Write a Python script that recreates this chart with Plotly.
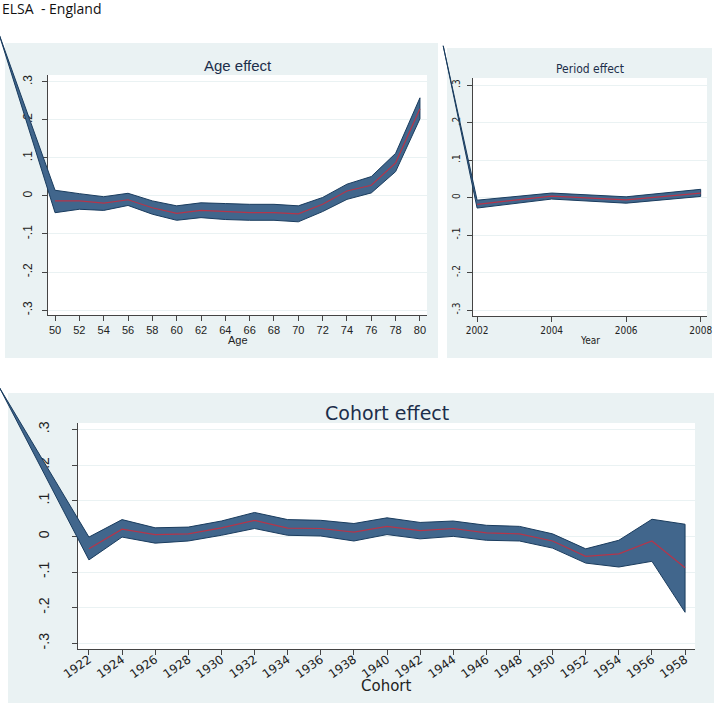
import plotly.graph_objects as go

W, H = 714, 705

# ---------------- data ----------------
age = [50, 52, 54, 56, 58, 60, 62, 64, 66, 68, 70, 72, 74, 76, 78, 80]
age_est = [-0.013, -0.013, -0.019, -0.010, -0.031, -0.046, -0.038, -0.041, -0.044, -0.044, -0.047, -0.022, 0.013, 0.028, 0.087, 0.229]
age_hi = [0.015, 0.006, -0.002, 0.007, -0.013, -0.026, -0.018, -0.020, -0.022, -0.022, -0.026, -0.004, 0.031, 0.051, 0.112, 0.258]
age_lo = [-0.044, -0.035, -0.038, -0.025, -0.048, -0.064, -0.057, -0.062, -0.064, -0.064, -0.068, -0.041, -0.009, 0.008, 0.064, 0.203]
age_stray = (45.4, 0.425)  # stray leading vertex of the CI polygon

year = [2002, 2004, 2006, 2008]
year_est = [-0.018, 0.004, -0.006, 0.012]
year_hi = [-0.007, 0.012, 0.002, 0.022]
year_lo = [-0.028, -0.004, -0.015, 0.003]
year_stray = (2001.09, 0.405)

cohort = list(range(1922, 1960, 2))
cohort_est = [-0.035, 0.020, 0.005, 0.007, 0.024, 0.045, 0.023, 0.022, 0.012, 0.028, 0.016, 0.022, 0.010, 0.007, -0.013, -0.056, -0.049, -0.013, -0.088]
cohort_hi = [-0.002, 0.047, 0.024, 0.026, 0.043, 0.067, 0.047, 0.045, 0.036, 0.052, 0.039, 0.043, 0.031, 0.028, 0.007, -0.035, -0.011, 0.048, 0.034]
cohort_lo = [-0.066, -0.002, -0.019, -0.013, 0.003, 0.022, 0.003, 0.001, -0.013, 0.005, -0.007, 0.000, -0.011, -0.013, -0.033, -0.075, -0.086, -0.070, -0.213]
cohort_stray = (1916.6, 0.417)

y_ticks = [-0.3, -0.2, -0.1, 0, 0.1, 0.2, 0.3]
y_ticktext = ["-.3", "-.2", "-.1", "0", ".1", ".2", ".3"]

# ---------------- styling ----------------
PANEL = "#EAF2F3"
GRID = "#EAF2F3"
BAND = "#41668C"
BAND_EDGE = "#1A3C5E"
RED = "#B5354A"
NAVY = "#1C2E4A"
AXC = "#444444"
ARIAL = "Liberation Sans, Arial, sans-serif"
NARROW = "Liberation Sans Narrow, Arial Narrow, DejaVu Sans Condensed, Liberation Sans, sans-serif"
WIDE = "DejaVu Sans, Verdana, sans-serif"


def px(x):
    return x / W


def py(y):
    return 1 - y / H


panels = {
    "age": dict(box=(48, 427, 75, 315), xr=[49.42, 80.58], yr=[-0.313, 0.318],
                xfont=dict(family=ARIAL, size=11, color="#222"),
                yfont=dict(family=ARIAL, size=12, color="#222"), xang=0, ystand=5, xstand=0),
    "year": dict(box=(473, 707, 78, 316), xr=[2001.89, 2008.17], yr=[-0.316, 0.319],
                 xfont=dict(family=NARROW, size=10, color="#222"),
                 yfont=dict(family=NARROW, size=10, color="#222"), xang=0, ystand=3, xstand=0),
    "cohort": dict(box=(78, 695, 423, 649), xr=[1921.34, 1958.6], yr=[-0.316, 0.318],
                   xfont=dict(family=WIDE, size=12, color="#222"),
                   yfont=dict(family=ARIAL, size=14, color="#222"), xang=-35, ystand=17,
                   xstand=-7),
}


def outer_range(r, d0, d1):
    span = (r[1] - r[0]) / (d1 - d0)
    return [r[0] - d0 * span, r[0] + (1 - d0) * span]


fig = go.Figure()

shapes = []
for (x0, x1, y0, y1) in [(5, 438, 43, 358), (447, 712, 48, 358), (8, 714, 393, 703)]:
    shapes.append(dict(type="rect", xref="paper", yref="paper", x0=px(x0), x1=px(x1),
                       y0=py(y1), y1=py(y0), fillcolor=PANEL, line_width=0, layer="below"))

layout = dict(width=W, height=H, margin=dict(l=0, r=0, t=0, b=0, pad=0, autoexpand=False),
              paper_bgcolor="white", plot_bgcolor="rgba(0,0,0,0)", showlegend=False,
              template="none")

series = [
    ("age", age, age_est, age_hi, age_lo, age_stray),
    ("year", year, year_est, year_hi, year_lo, year_stray),
    ("cohort", cohort, cohort_est, cohort_hi, cohort_lo, cohort_stray),
]

for i, (name, xs, est, hi, lo, stray) in enumerate(series):
    p = panels[name]
    l, r, t, b = p["box"]
    dx = [px(l), px(r)]
    dy = [py(b), py(t)]
    inner = i + 1
    outer = i + 4
    sfx = "" if inner == 1 else str(inner)

    layout["xaxis" + sfx] = dict(domain=dx, range=p["xr"], anchor="y" + sfx, automargin=False,
                                 showgrid=False, zeroline=False, showline=True, linecolor=AXC,
                                 linewidth=1, ticks="outside", ticklen=5, tickcolor=AXC,
                                 tickfont=p["xfont"], tickvals=xs,
                                 ticktext=[str(v) for v in xs], tickangle=p["xang"],
                                 ticklabelstandoff=p["xstand"])
    layout["yaxis" + sfx] = dict(domain=dy, range=p["yr"], anchor="x" + sfx, automargin=False,
                                 showgrid=True, gridcolor=GRID, gridwidth=1, zeroline=False,
                                 showline=True, linecolor=AXC, linewidth=1, ticks="outside",
                                 ticklen=5, tickcolor=AXC, tickvals=y_ticks,
                                 ticktext=y_ticktext, tickangle=-90, tickfont=p["yfont"],
                                 ticklabelstandoff=p["ystand"])
    shapes.append(dict(type="rect", xref=f"x{sfx} domain", yref=f"y{sfx} domain",
                       x0=0, x1=1, y0=0, y1=1, fillcolor="white", line_width=0, layer="below"))
    layout[f"xaxis{outer}"] = dict(domain=[0, 1], range=outer_range(p["xr"], dx[0], dx[1]),
                                   visible=False, anchor=f"y{outer}", automargin=False)
    layout[f"yaxis{outer}"] = dict(domain=[0, 1], range=outer_range(p["yr"], dy[0], dy[1]),
                                   visible=False, anchor=f"x{outer}", automargin=False)

    # invisible trace so that the inner subplot is drawn
    fig.add_trace(go.Scatter(x=xs, y=est, mode="lines", line=dict(width=0), opacity=0,
                             hoverinfo="skip", xaxis="x" + sfx, yaxis="y" + sfx))

    bx = [stray[0]] + list(xs) + list(xs)[::-1] + [stray[0]]
    by = [stray[1]] + list(hi) + list(lo)[::-1] + [stray[1]]
    fig.add_trace(go.Scatter(x=bx, y=by, fill="toself", fillcolor=BAND, mode="lines",
                             line=dict(color=BAND_EDGE, width=1), hoverinfo="skip",
                             xaxis=f"x{outer}", yaxis=f"y{outer}"))
    fig.add_trace(go.Scatter(x=xs, y=est, mode="lines", line=dict(color=RED, width=1.2),
                             xaxis=f"x{outer}", yaxis=f"y{outer}"))

layout["shapes"] = shapes
layout["annotations"] = [
    dict(text="ELSA  - England", xref="paper", yref="paper", x=px(0), y=py(8),
         xanchor="left", yanchor="middle", showarrow=False,
         font=dict(family="Open Sans, Lato, sans-serif", size=14, color="#111")),
    dict(text="Age effect", xref="x domain", yref="paper", x=0.5, y=py(65),
         xanchor="center", yanchor="middle", showarrow=False,
         font=dict(family=ARIAL, size=15, color=NAVY)),
    dict(text="Age", xref="x domain", yref="paper", x=0.5, y=py(340),
         xanchor="center", yanchor="middle", showarrow=False,
         font=dict(family=ARIAL, size=11, color="#222")),
    dict(text="Period effect", xref="x2 domain", yref="paper", x=0.5, y=py(69),
         xanchor="center", yanchor="middle", showarrow=False,
         font=dict(family=NARROW, size=12, color=NAVY)),
    dict(text="Year", xref="x2 domain", yref="paper", x=0.5, y=py(340),
         xanchor="center", yanchor="middle", showarrow=False,
         font=dict(family=NARROW, size=10, color="#222")),
    dict(text="Cohort effect", xref="x3 domain", yref="paper", x=0.5, y=py(413),
         xanchor="center", yanchor="middle", showarrow=False,
         font=dict(family=WIDE, size=19, color=NAVY)),
    dict(text="Cohort", xref="x3 domain", yref="paper", x=0.5, y=py(686),
         xanchor="center", yanchor="middle", showarrow=False,
         font=dict(family=WIDE, size=15, color="#222")),
]

fig.update_layout(**layout)
fig.write_html("out.html", post_script="document.body.style.margin='0';",
               config={"displayModeBar": False})
